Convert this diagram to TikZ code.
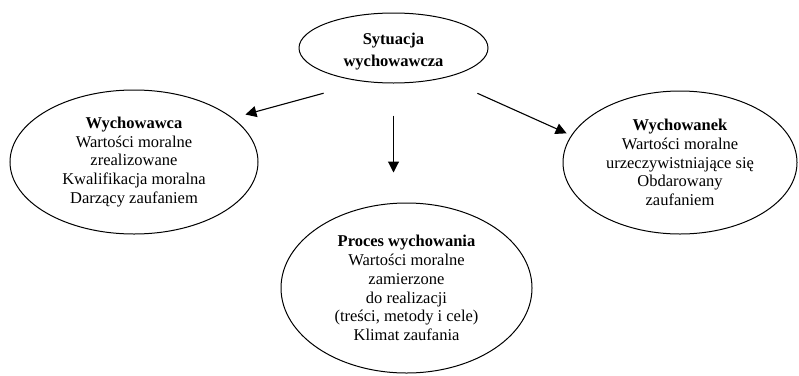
\documentclass[tikz,border=0pt]{standalone}
\usepackage{fontspec}
\setmainfont{Liberation Serif}
\usetikzlibrary{arrows.meta,shapes.geometric}
\tikzset{
  ell/.style={draw,ellipse,line width=1pt,align=center,inner sep=0pt,font=\fontsize{16.5}{18.7}\selectfont},
  arr/.style={-{Triangle[length=11pt,width=11pt]},line width=1.1pt},
}
\begin{document}
\begin{tikzpicture}[x=1pt,y=-1pt]
\useasboundingbox (0,0) rectangle (799,375);
% situation on top, three parts below
\node[ell,minimum width=189pt,minimum height=70pt,font=\fontsize{16.5}{22}\selectfont\bfseries] (sytuacja) at (393.5,48) {\rule{0pt}{19pt}Sytuacja\\wychowawcza};
\node[ell,minimum width=248pt,minimum height=144pt] (wychowawca) at (134,162) {\textbf{Wychowawca}\\Wartości moralne\\zrealizowane\\Kwalifikacja moralna\\Darzący zaufaniem};
\node[ell,minimum width=234pt,minimum height=143pt] (wychowanek) at (680,162.5) {\textbf{Wychowanek}\\Wartości moralne\\urzeczywistniające się\\Obdarowany\\zaufaniem};
\node[ell,minimum width=251pt,minimum height=170pt] (proces) at (406.5,288) {\textbf{Proces wychowania}\\Wartości moralne\\zamierzone\\do realizacji\\(treści, metody i cele)\\Klimat zaufania};
\draw[arr,shorten <=43pt,shorten >=13pt] (sytuacja.230) -- (wychowawca.24);
\draw[arr,shorten <=37pt,shorten >=5pt] (sytuacja.329) -- (wychowanek.166);
\draw[arr,shorten <=32pt,shorten >=30pt] (sytuacja.south) -- (sytuacja.south |- proces.north);
\end{tikzpicture}
\end{document}
